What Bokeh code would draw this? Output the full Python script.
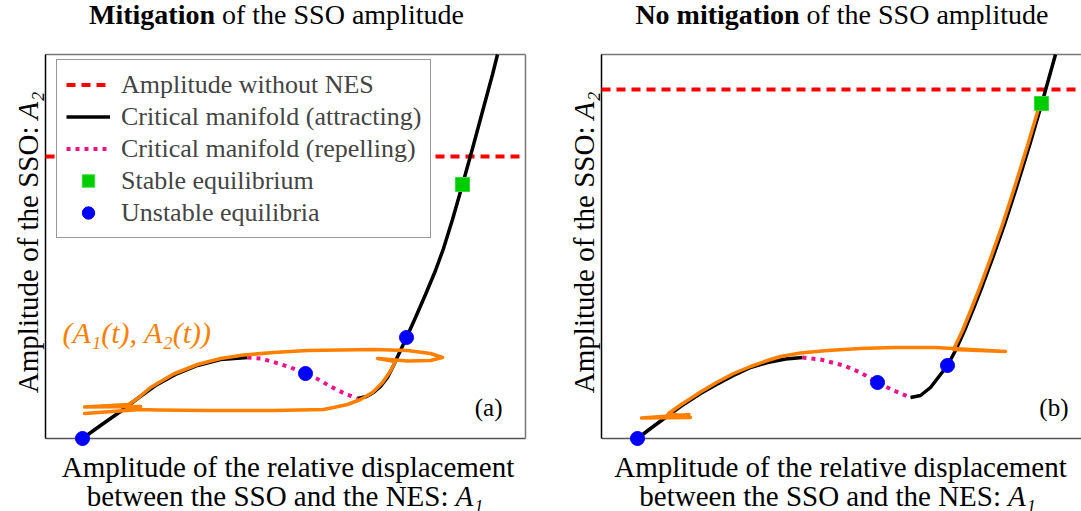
from math import pi
from bokeh.plotting import figure
from bokeh.layouts import row
from bokeh.models import Label, Legend, LegendItem, Range1d
from bokeh.embed import file_html
from bokeh.resources import INLINE

FONT = "Liberation Serif"
ORANGE = "#ff8000"
MAGENTA = "#ee1289"

# ---------------- data, panel (a): mitigation ----------------
a_box_x = (0.0, 4.8)
a_box_y = (0.0, 3.84)
a_canvas_x = (-0.45, 4.95)
a_amp_no_nes = 2.82

a_attr_low_x = [0.37, 0.55, 0.75, 0.92, 1.10, 1.30, 1.52, 1.75, 2.02]
a_attr_low_y = [0.00, 0.13, 0.27, 0.40, 0.53, 0.64, 0.73, 0.79, 0.81]
a_rep_x = [2.02, 2.15, 2.28, 2.45, 2.60, 2.73, 2.85, 2.99, 3.12]
a_rep_y = [0.81, 0.80, 0.765, 0.71, 0.65, 0.59, 0.52, 0.45, 0.40]
a_attr_high_x = [3.12, 3.21, 3.28, 3.35, 3.42, 3.48, 3.54, 3.61, 3.70, 3.80,
                 3.90, 3.98, 4.07, 4.17, 4.27, 4.37, 4.47, 4.52]
a_attr_high_y = [0.40, 0.42, 0.46, 0.52, 0.61, 0.73, 0.86, 1.01, 1.21, 1.44,
                 1.68, 1.90, 2.19, 2.54, 2.90, 3.27, 3.64, 3.84]

a_traj_x = [0.92, 1.05, 1.28, 1.52, 1.75, 1.98, 2.28, 2.62, 2.95, 3.28, 3.62, 3.85,
            3.97, 3.85, 3.62, 3.32, 3.50, 3.44, 3.37, 3.27, 3.15, 3.02, 2.88, 2.78,
            2.28, 1.62, 1.12, 0.95, 0.39, 0.80, 0.95, 0.39, 0.83, 0.92]
a_traj_y = [0.40, 0.51, 0.645, 0.74, 0.80, 0.835, 0.86, 0.88, 0.885, 0.89, 0.88, 0.85,
            0.81, 0.78, 0.775, 0.80, 0.77, 0.66, 0.56, 0.46, 0.39, 0.34, 0.31, 0.29,
            0.28, 0.28, 0.285, 0.29, 0.25, 0.28, 0.32, 0.315, 0.34, 0.40]

a_stable_x = [4.17]
a_stable_y = [2.54]
a_unstable_x = [0.37, 2.60, 3.61]
a_unstable_y = [0.00, 0.65, 1.01]

# ---------------- data, panel (b): no mitigation ----------------
b_box_x = (0.0, 4.80)
b_box_y = (0.0, 3.84)
b_canvas_x = (-0.61, 4.80)
b_amp_no_nes = 3.49

b_attr_low_x = [0.36, 0.49, 0.64, 0.79, 0.99, 1.15, 1.32, 1.49, 1.66, 1.84, 2.01]
b_attr_low_y = [0.00, 0.10, 0.21, 0.32, 0.45, 0.54, 0.63, 0.71, 0.76, 0.795, 0.81]
b_rep_x = [2.01, 2.19, 2.42, 2.59, 2.76, 2.92, 3.09]
b_rep_y = [0.81, 0.79, 0.73, 0.66, 0.56, 0.48, 0.41]
b_attr_high_x = [3.09, 3.19, 3.29, 3.39, 3.46, 3.54, 3.63, 3.72, 3.81, 3.91,
                 4.03, 4.15, 4.28, 4.40, 4.47, 4.54]
b_attr_high_y = [0.41, 0.43, 0.51, 0.64, 0.73, 0.88, 1.08, 1.30, 1.53, 1.80,
                 2.14, 2.51, 2.93, 3.34, 3.59, 3.84]

b_traj_x = [4.38, 4.26, 4.13, 4.01, 3.89, 3.79, 3.70, 3.61, 3.52, 4.04, 3.34, 2.92,
            2.59, 2.26, 1.99, 1.79, 1.66, 1.49, 1.32, 1.15, 0.99, 0.79, 0.67, 0.89,
            0.40, 0.74, 0.89]
b_traj_y = [3.33, 2.93, 2.51, 2.14, 1.80, 1.53, 1.30, 1.08, 0.89, 0.87, 0.91, 0.91,
            0.90, 0.88, 0.855, 0.82, 0.78, 0.72, 0.65, 0.56, 0.465, 0.335, 0.25, 0.21,
            0.205, 0.23, 0.24]

b_stable_x = [4.40]
b_stable_y = [3.35]
b_unstable_x = [0.36, 2.76, 3.46]
b_unstable_y = [0.00, 0.56, 0.73]

canvas_y = (-0.73, 4.38)

legend_labels = ["Amplitude without NES", "Critical manifold (attracting)",
                 "Critical manifold (repelling)", "Stable equilibrium",
                 "Unstable equilibria"]


def make_panel(width, cx, box_x, box_y, red_x, amp,
               low_x, low_y, rep_x, rep_y, high_x, high_y, traj_x, traj_y,
               st_x, st_y, un_x, un_y, right_side):
    p = figure(width=width, height=511, output_backend="svg", toolbar_location=None,
               x_axis_location=None, y_axis_location=None,
               x_range=Range1d(*cx), y_range=Range1d(*canvas_y),
               min_border=0)
    p.grid.grid_line_color = None
    p.outline_line_color = None
    p.background_fill_color = "white"
    p.border_fill_color = "white"
    # frame box
    p.line([box_x[0], box_x[1]], [box_y[1], box_y[1]], line_color="#777777", line_width=1.5)
    p.line([box_x[0], box_x[1]], [box_y[0], box_y[0]], line_color="#555555", line_width=1.5)
    if right_side:
        p.line([box_x[1], box_x[1]], [box_y[0], box_y[1]], line_color="#777777", line_width=1.5)
    p.line([box_x[0], box_x[0]], [box_y[0], box_y[1]], line_color="black", line_width=1.5)

    r_red = p.line([box_x[0], red_x], [amp, amp], line_color="#ff0000", line_width=4,
                   line_dash="9 6")
    r_att = p.line(low_x, low_y, line_color="black", line_width=3.5)
    p.line(high_x, high_y, line_color="black", line_width=3.5)
    r_rep = p.line(rep_x, rep_y, line_color=MAGENTA, line_width=4, line_dash="4 5")
    p.line(traj_x, traj_y, line_color=ORANGE, line_width=3.5, line_join="round")
    r_st = p.scatter(st_x, st_y, marker="square", size=14, fill_color="#00cc00",
                     line_color="#33dd33", line_width=1)
    r_un = p.scatter(un_x, un_y, marker="circle", size=14, fill_color="#0000ff",
                     line_color="#0000ff")
    return p, [r_red, r_att, r_rep, r_st, r_un]


pa, rends = make_panel(540, a_canvas_x, a_box_x, a_box_y, a_box_x[1], a_amp_no_nes,
                       a_attr_low_x, a_attr_low_y, a_rep_x, a_rep_y,
                       a_attr_high_x, a_attr_high_y, a_traj_x, a_traj_y,
                       a_stable_x, a_stable_y, a_unstable_x, a_unstable_y, True)

pb, _ = make_panel(541, b_canvas_x, b_box_x, b_box_y, b_canvas_x[1], b_amp_no_nes,
                   b_attr_low_x, b_attr_low_y, b_rep_x, b_rep_y,
                   b_attr_high_x, b_attr_high_y, b_traj_x, b_traj_y,
                   b_stable_x, b_stable_y, b_unstable_x, b_unstable_y, False)

legend = Legend(items=[LegendItem(label=l, renderers=[r]) for l, r in zip(legend_labels, rends)],
                location=(56, 273), margin=0, padding=9,
                glyph_width=44, glyph_height=31, label_height=31, spacing=1,
                label_standoff=11, label_text_font=FONT, label_text_font_size="26px",
                border_line_color="#333333", border_line_width=1.5,
                background_fill_alpha=1.0)
pa.add_layout(legend)


def lab(p, x, y, text, size="29px", style="normal", align="left", baseline="alphabetic",
        angle=0, color="black"):
    p.add_layout(Label(x=x, y=y, text=text, text_font=FONT, text_font_size=size,
                       text_font_style=style, text_align=align, text_baseline=baseline,
                       angle=angle, text_color=color))


# titles
lab(pa, 1.695, 4.24, "Mitigation", size="28px", style="bold", align="right")
lab(pa, 1.765, 4.24, "of the SSO amplitude", size="28px")
lab(pb, 1.98, 4.24, "No mitigation", size="28px", style="bold", align="right")
lab(pb, 2.05, 4.24, "of the SSO amplitude", size="28px")

# x labels
for p, cx, e1, e2 in [(pa, 2.425, 4.03, 4.10), (pb, 2.39, 3.995, 4.065)]:
    lab(p, cx, -0.28, "Amplitude of the relative displacement", align="center")
    lab(p, e1, -0.57, "between the SSO and the NES:", align="right")
    lab(p, e2, -0.57, "A\u2081", style="italic")

# y labels
for p in (pa, pb):
    lab(p, -0.18, 3.12, "Amplitude of the SSO:", align="right", angle=pi / 2)
    lab(p, -0.18, 3.19, "A\u2082", style="italic", angle=pi / 2)

# panel tags and trajectory label
lab(pa, 4.57, 0.31, "(a)", size="25px", align="right", baseline="middle")
lab(pb, 4.67, 0.31, "(b)", size="25px", align="right", baseline="middle")
lab(pa, 0.17, 1.06, "(A\u2081(t), A\u2082(t))", size="30px", style="italic",
    baseline="middle", color=ORANGE)

layout = row(pa, pb)
open("out.html", "w").write(file_html(layout, INLINE))
